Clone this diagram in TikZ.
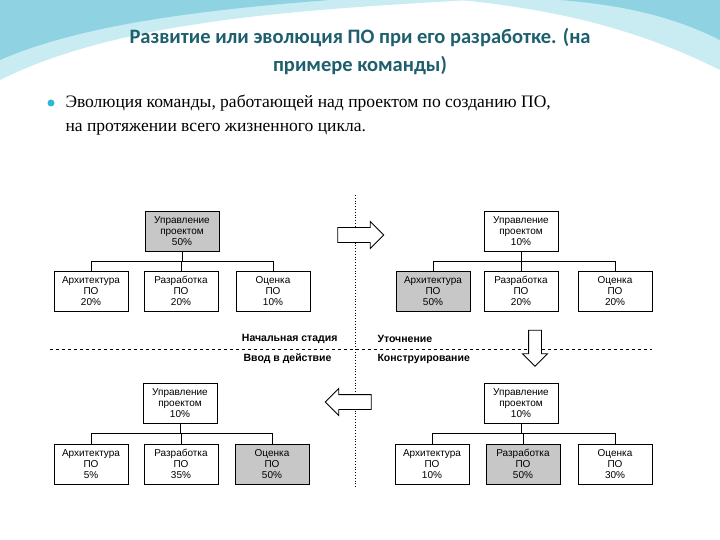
\documentclass[tikz,border=0pt]{standalone}
\usepackage{fontspec}
\setmainfont{Liberation Serif}
\newfontfamily\titlefont{Carlito}
\newfontfamily\boxfont{Liberation Sans}
\usetikzlibrary{shapes.arrows}
\definecolor{titlec}{HTML}{1E5F6E}
\definecolor{sw1}{HTML}{8FD3E3}
\definecolor{sw2}{HTML}{C9ECF3}
\definecolor{bul}{HTML}{2FB7D4}
\tikzset{
 bx/.style={draw,line width=0.8pt,minimum width=74pt,minimum height=40pt,align=center,
   font=\boxfont\fontsize{10}{11}\selectfont,inner sep=1pt},
 gb/.style={bx,fill=black!22},
 lab/.style={font=\boxfont\bfseries\fontsize{10.5}{12}\selectfont},
 conn/.style={line width=0.7pt},
 harrow/.style={single arrow,draw,line width=0.8pt,fill=white,minimum height=46pt,
   inner sep=7pt,single arrow head extend=6pt}
}
\begin{document}
\begin{tikzpicture}[x=1pt,y=-1pt]
\useasboundingbox (0,0) rectangle (720,540);
\fill[white] (0,0) rectangle (720,540);
% background swooshes
\fill[sw2] (0,0) -- (470,0) .. controls (300,10) and (120,20) .. (0,80) -- cycle;
\fill[sw1] (0,0) -- (330,0) .. controls (200,10) and (80,25) .. (0,60) -- cycle;
\fill[sw2] (460,0) -- (720,0) -- (720,70) .. controls (640,30) and (560,10) .. (460,0) -- cycle;
\fill[sw1] (560,0) -- (720,0) -- (720,40) .. controls (670,15) and (620,5) .. (560,0) -- cycle;
% title
\node[font=\titlefont\bfseries\fontsize{20.5}{28}\selectfont,text=titlec,align=center] (title) at (360,52)
 {Развитие или эволюция ПО при его разработке. (на\\примере команды)};
\fill[bul] (51,103) circle (3.5);
\node[anchor=west,font=\fontsize{17.5}{24}\selectfont,align=left] (txt) at (62,115)
 {Эволюция команды, работающей над проектом по созданию ПО,\\на протяжении всего жизненного цикла.};
% separators
\draw[dotted,line width=0.8pt] (355,195) -- (355,487);
\draw[dashed,line width=0.6pt] (50,349) -- (652,349);
% top-left
\node[gb] (a0) at (182,231) {Управление\\проектом\\50\%};
\node[bx] (a1) at (91,291) {Архитектура\\ПО\\20\%};
\node[bx] (a2) at (181,291) {Разработка\\ПО\\20\%};
\node[bx] (a3) at (273,291) {Оценка\\ПО\\10\%};
% top-right
\node[bx] (b0) at (521,231) {Управление\\проектом\\10\%};
\node[gb] (b1) at (433,291) {Архитектура\\ПО\\50\%};
\node[bx] (b2) at (521,291) {Разработка\\ПО\\20\%};
\node[bx] (b3) at (615,291) {Оценка\\ПО\\20\%};
% bottom-left
\node[bx] (c0) at (180,403) {Управление\\проектом\\10\%};
\node[bx] (c1) at (91,464) {Архитектура\\ПО\\5\%};
\node[bx] (c2) at (181,464) {Разработка\\ПО\\35\%};
\node[gb] (c3) at (272,464) {Оценка\\ПО\\50\%};
% bottom-right
\node[bx] (d0) at (521,403) {Управление\\проектом\\10\%};
\node[bx] (d1) at (432,464) {Архитектура\\ПО\\10\%};
\node[gb] (d2) at (523,464) {Разработка\\ПО\\50\%};
\node[bx] (d3) at (615,464) {Оценка\\ПО\\30\%};
% connectors
\foreach \p in {a,b,c,d}{
  \draw[conn] (\p0.south) -- ++(0,10) coordinate (\p m);
  \draw[conn] (\p1.north) |- (\p m);
  \draw[conn] (\p3.north) |- (\p m);
  \draw[conn] (\p2.north) |- (\p m);
}
% arrows
\node[harrow] (ar1) at (357,235) {};
\node[harrow,shape border rotate=270,minimum height=36pt,inner sep=6pt] (ar2) at (535,345) {};
\node[harrow,shape border rotate=180] (ar3) at (352,402) {};
% stage labels
\node[lab,anchor=east] (l1) at (341,339) {Начальная стадия};
\node[lab,anchor=east] (l2) at (335,359) {Ввод в действие};
\node[lab,anchor=west] (l3) at (374,339) {Уточнение};
\node[lab,anchor=west] (l4) at (374,359) {Конструирование};
\end{tikzpicture}
\end{document}
